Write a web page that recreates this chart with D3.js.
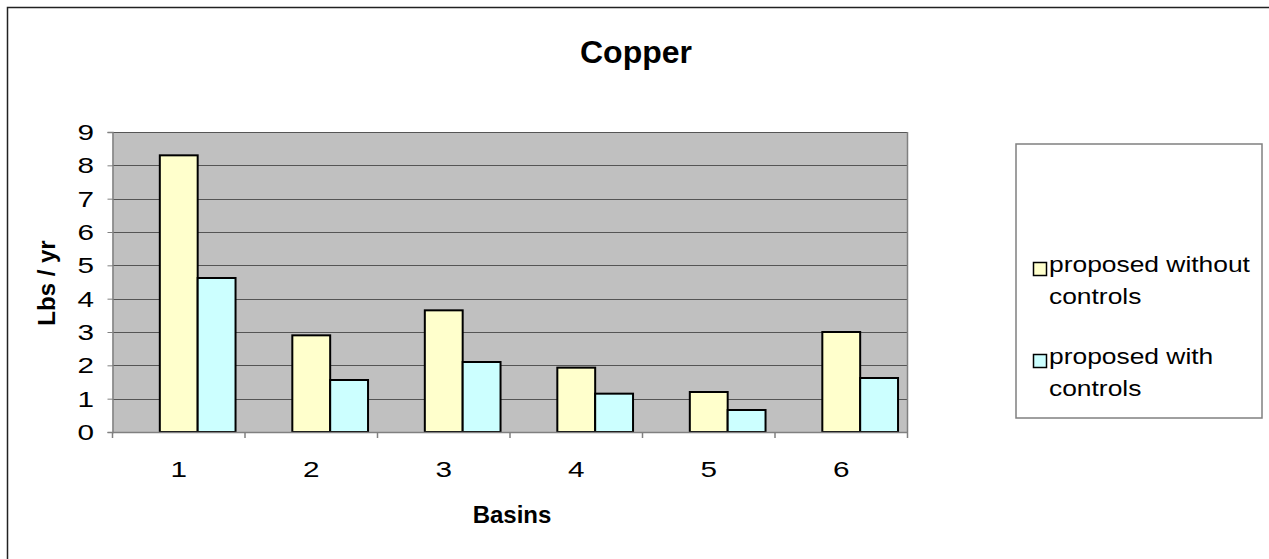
<!DOCTYPE html>
<html><head><meta charset="utf-8">
<script src="https://cdn.jsdelivr.net/npm/d3@7"></script>
<style>body{margin:0;background:#fff;}svg{display:block;font-family:Arial,"Liberation Sans",sans-serif;}</style>
</head><body><svg id="c" width="1269" height="559"></svg>
<script>
const categories = ["1","2","3","4","5","6"];
const seriesNames = ["proposed without controls","proposed with controls"];
const withoutControls = [8.3, 2.9, 3.65, 1.93, 1.2, 3.0];
const withControls = [4.62, 1.56, 2.1, 1.15, 0.66, 1.62];
const yTicks = [0,1,2,3,4,5,6,7,8,9];
const colors = ["#FFFFCC","#CCFFFF"];
// Excel cluster has a third (empty) slot before the visible series
const slots = ["empty","without","with"];
const legendLines = [["proposed without","controls"],["proposed with","controls"]];

const FONT = "Arial, Liberation Sans, sans-serif";
const svg = d3.select("#c");
svg.append("rect").attr("x",7.5).attr("y",7.5).attr("width",1280).attr("height",580)
  .attr("fill","#fff").attr("stroke","#222").attr("stroke-width",1.5);

const L=112.5, R=907.5, T=132, B=432;
const x = d3.scaleBand().domain(categories).range([L,R]).paddingInner(0).paddingOuter(0);
const x1 = d3.scaleBand().domain(slots).range([0,x.bandwidth()]).paddingInner(0).paddingOuter(0.25);
const y = d3.scaleLinear().domain([0,9]).range([B,T]);

svg.append("rect").attr("x",L).attr("y",T).attr("width",R-L).attr("height",B-T).attr("fill","#C0C0C0");
svg.append("g").selectAll("line").data(yTicks.slice(1)).join("line")
  .attr("x1",L).attr("x2",R).attr("y1",d=>Math.round(y(d))+0.5).attr("y2",d=>Math.round(y(d))+0.5)
  .attr("stroke","#555").attr("stroke-width",1);
svg.append("line").attr("x1",R).attr("x2",R).attr("y1",T).attr("y2",B).attr("stroke","#808080").attr("stroke-width",1.5);

const data = categories.map((c,i)=>({c, vals:[{k:"without",v:withoutControls[i],col:colors[0]},{k:"with",v:withControls[i],col:colors[1]}]}));
const g = svg.append("g").selectAll("g").data(data).join("g").attr("transform",d=>`translate(${x(d.c)},0)`);
g.selectAll("rect").data(d=>d.vals).join("rect")
  .attr("x",d=>x1(d.k)).attr("width",x1.bandwidth())
  .attr("y",d=>y(d.v)).attr("height",d=>B-y(d.v))
  .attr("fill",d=>d.col).attr("stroke","#000").attr("stroke-width",2);

// y axis
const ya = svg.append("g").attr("transform",`translate(${L},0)`)
  .call(d3.axisLeft(y).tickValues(yTicks).tickSize(5).tickFormat(""));
ya.select(".domain").attr("stroke","#808080").attr("stroke-width",1.5);
ya.selectAll(".tick line").attr("stroke","#808080");
svg.append("g").selectAll("text").data(yTicks).join("text")
  .attr("transform",d=>`translate(94,${y(d)+8}) scale(1.35,1)`)
  .attr("text-anchor","end").attr("font-size",22).attr("font-family",FONT).text(d=>d);

// x axis
const xa = svg.append("g").attr("transform",`translate(0,${B})`)
  .call(d3.axisBottom(x).tickSize(0).tickFormat(""));
xa.select(".domain").attr("stroke","#808080").attr("stroke-width",1.5);
svg.append("g").selectAll("text").data(categories).join("text")
  .attr("transform",d=>`translate(${x(d)+x.bandwidth()/2},477) scale(1.35,1)`)
  .attr("text-anchor","middle").attr("font-size",22).attr("font-family",FONT).text(d=>d);
svg.append("g").selectAll("line").data(d3.range(categories.length+1)).join("line")
  .attr("x1",i=>L+i*x.step()).attr("x2",i=>L+i*x.step()).attr("y1",B).attr("y2",B+6)
  .attr("stroke","#808080").attr("stroke-width",1.5);

svg.append("text").attr("x",636).attr("y",63).attr("text-anchor","middle")
  .attr("font-size",32).attr("font-weight","bold").text("Copper");
svg.append("text").attr("x",512).attr("y",523).attr("text-anchor","middle")
  .attr("font-size",24).attr("font-weight","bold").text("Basins");
svg.append("text").attr("transform","translate(55,283) rotate(-90)").attr("text-anchor","middle")
  .attr("font-size",24).attr("font-weight","bold").text("Lbs / yr");

// legend
svg.append("rect").attr("x",1016).attr("y",144).attr("width",246).attr("height",274)
  .attr("fill","#fff").attr("stroke","#808080").attr("stroke-width",1.5);
const lg = svg.append("g").selectAll("g").data(seriesNames).join("g")
  .attr("transform",(d,i)=>`translate(1033,${262+i*92})`);
lg.append("rect").attr("x",0.5).attr("y",0.5).attr("width",13).attr("height",13)
  .attr("fill",(d,i)=>colors[i]).attr("stroke","#000").attr("stroke-width",1.5);
lg.each(function(d,i){
  const t = d3.select(this).append("text").attr("font-size",22).attr("font-family",FONT)
    .attr("transform","translate(16,0) scale(1.2,1)");
  legendLines[i].forEach((s,j)=>t.append("tspan").attr("x",0).attr("y",10+j*32).text(s));
});
</script></body></html>
